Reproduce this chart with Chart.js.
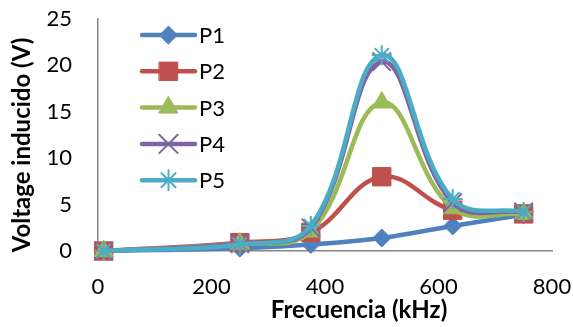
<!DOCTYPE html>
<html>
<head>
<meta charset="utf-8">
<script src="https://cdn.jsdelivr.net/npm/chart.js@4.4.1/dist/chart.umd.min.js"></script>
<style>
  html, body { margin: 0; padding: 0; background: #fff; }
  #wrap { width: 573px; height: 327px; }
</style>
</head>
<body>
<div id="wrap"><canvas id="chart"></canvas></div>
<script>
// frequencies (kHz) and induced voltage for each probe
const freqs = [10, 250, 375, 500, 625, 750]
const p1 = [0, 0.3, 0.7, 1.4, 2.7, 3.9]
const p2 = [0, 0.9, 2.0, 8.0, 4.4, 4.0]
const p3 = [0, 0.8, 2.1, 16.0, 4.6, 4.0]
const p4 = [0, 0.8, 2.5, 20.4, 5.2, 4.2]
const p5 = [0, 0.7, 2.7, 21.1, 5.6, 4.2]
const xTicks = [0, 200, 400, 600, 800]
const yTicks = [0, 5, 10, 15, 20, 25]
const xTitle = "Frecuencia (kHz)"
const yTitle = "Voltage inducido (V)"

const FONT = "Lato"

const toPoints = (vals) => vals.map((v, i) => ({ x: freqs[i], y: v }))

function series(label, vals, color, style, radius, order) {
  return {
    label: label,
    data: toPoints(vals),
    borderColor: color,
    backgroundColor: color,
    borderWidth: 4.5,
    pointStyle: style,
    pointRadius: radius,
    pointHoverRadius: radius,
    pointBorderWidth: style === "crossRot" || style === "star" ? 2 : 1,
    tension: 0.4,
    clip: false,
    order: order,
  }
}

// legend drawn inside the plot like the original
const insideLegend = {
  id: "insideLegend",
  afterDraw(chart) {
    const ctx = chart.ctx
    const x0 = 142, x1 = 195, top = 35, step = 36.3
    ctx.save()
    chart.data.datasets.forEach((ds, i) => {
      const y = top + i * step
      ctx.strokeStyle = ds.borderColor
      ctx.lineWidth = ds.borderWidth
      ctx.lineCap = "round"
      ctx.beginPath()
      ctx.moveTo(x0, y)
      ctx.lineTo(x1, y)
      ctx.stroke()
      ctx.fillStyle = ds.backgroundColor
      ctx.lineWidth = ds.pointBorderWidth
      ctx.beginPath()
      Chart.helpers.drawPoint(ctx, { pointStyle: ds.pointStyle, radius: ds.pointRadius, rotation: 0, borderWidth: ds.pointBorderWidth }, (x0 + x1) / 2, y)
      ctx.fillStyle = "#000"
      ctx.font = "22px " + FONT
      ctx.textBaseline = "middle"
      ctx.textAlign = "left"
      ctx.fillText(ds.label, x1 + 4, y + 1)
    })
    ctx.restore()
  },
}

// axis titles, centred like Excel does (a bit off the plot centre)
const axisTitles = {
  id: "axisTitles",
  afterDraw(chart) {
    const ctx = chart.ctx
    const a = chart.chartArea
    ctx.save()
    ctx.fillStyle = "#000"
    ctx.font = "bold 24px " + FONT
    ctx.textAlign = "center"
    ctx.textBaseline = "middle"
    ctx.fillText(xTitle, (a.left + a.right) / 2 + 34, 310)
    ctx.translate(22, (a.top + a.bottom) / 2 + 10)
    ctx.rotate(-Math.PI / 2)
    ctx.fillText(yTitle, 0, 0)
    ctx.restore()
  },
}

new Chart(document.getElementById("chart"), {
  type: "line",
  data: {
    datasets: [
      series("P1", p1, "#4F81BD", "rectRot", 9, 4),
      series("P2", p2, "#C0504D", "rect", 13, 3),
      series("P3", p3, "#9BBB59", "triangle", 11, 2),
      series("P4", p4, "#8064A2", "crossRot", 13, 1),
      series("P5", p5, "#4BACC6", "star", 10, 0),
    ],
  },
  options: {
    responsive: true,
    maintainAspectRatio: false,
    animation: false,
    layout: { padding: { left: 0, right: 21, top: 19, bottom: 0 } },
    plugins: {
      legend: { display: false },
      tooltip: { enabled: false },
    },
    scales: {
      x: {
        type: "linear",
        min: 0,
        max: 800,
        afterBuildTicks: (scale) => { scale.ticks = xTicks.map((v) => ({ value: v })) },
        afterFit: (scale) => {
          scale.height = 76
          scale.paddingLeft = 0
          scale.paddingRight = 0
        },
        grid: { display: false, drawTicks: false },
        border: { display: true, color: "#868686", width: 1.5 },
        ticks: { color: "#000", font: { family: FONT, size: 22 }, padding: 23, maxRotation: 0 },
      },
      y: {
        min: 0,
        max: 25,
        afterBuildTicks: (scale) => { scale.ticks = yTicks.map((v) => ({ value: v })) },
        afterFit: (scale) => {
          scale.width = 98
          scale.paddingTop = 0
          scale.paddingBottom = 0
        },
        grid: { display: false, drawTicks: false },
        border: { display: true, color: "#868686", width: 1.5 },
        ticks: { color: "#000", font: { family: FONT, size: 22 }, padding: 26 },
      },
    },
  },
  plugins: [insideLegend, axisTitles],
})
</script>
</body>
</html>
